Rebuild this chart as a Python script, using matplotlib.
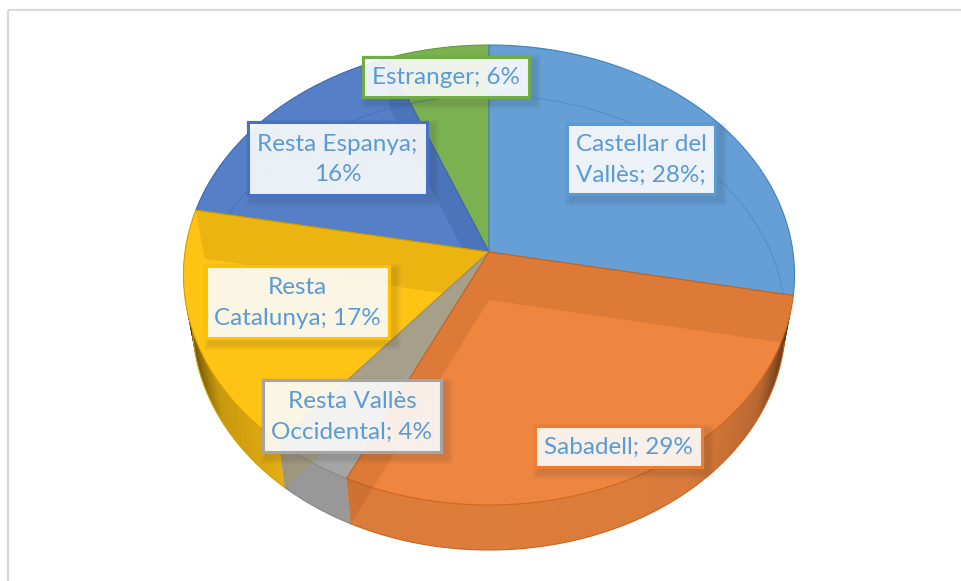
import numpy as np
import matplotlib
matplotlib.use("Agg")
import matplotlib.pyplot as plt
from matplotlib.patches import Rectangle

categories = ["Castellar del\nVallès; 28%;", "Sabadell; 29%", "Resta Vallès\nOccidental; 4%",
              "Resta\nCatalunya; 17%", "Resta Espanya;\n16%", "Estranger; 6%"]
values = [28, 29, 4, 17, 16, 6]
colors = ["#659FD6", "#EE8640", "#A5A5A5", "#FFC313", "#5580C8", "#7CB151"]
edges = ["#3F80C0", "#CF661F", "#8A8A8A", "#D9A200", "#3F6CB5", "#5F9A38"]
box_edges = ["#5B9BD5", "#ED7D31", "#A5A5A5", "#FFC000", "#4472C4", "#70AD47"]

# label boxes in pixels: left, top, right, bottom
boxes = [(567, 124, 715, 194), (535, 426, 702, 467), (263, 380, 441, 452),
         (206, 266, 389, 338), (248, 122, 427, 195), (363, 57, 529, 97)]

plt.rcParams['font.family'] = ['Lato', 'DejaVu Sans']

# projection of the tilted pie
cx = 489
top = (252, 304, 227.7)
bottom = (300, 295, 225)
k = 0.1


def rim(theta, plane):
    cy, rx, ry = plane
    t = np.radians(theta)
    w = 1 + k * np.cos(t)
    return cx + rx * np.sin(t) / w, cy - ry * np.cos(t) / w


def shade(color, f):
    return tuple(np.array(matplotlib.colors.to_rgb(color)) * f)


def wall(ax, theta, color, alpha, zorder):
    x1, y1 = rim(theta, top)
    x2, y2 = rim(theta, bottom)
    ax.fill([cx, x1, x2, cx], [top[0], y1, y2, bottom[0]], color=color, alpha=alpha, lw=0, zorder=zorder)


fig = plt.figure(figsize=(9.62, 5.81), dpi=100)
ax = fig.add_axes([0, 0, 1, 1])
ax.set_xlim(0, 962)
ax.set_ylim(581, 0)
ax.axis("off")

ax.add_patch(Rectangle((8, 10), 1000, 700, fill=False, edgecolor="#D9D9D9", lw=1.6, zorder=0))

limits = np.cumsum([0] + values) * 3.6
starts = limits[:-1]
ends = limits[1:]

# draw order: back slices first, Sabadell last so it covers the grey wall
layers = [5, 4, 3, 2, 0, 1]
for i in layers:
    z = 2 + layers.index(i) * 2
    theta = np.linspace(starts[i], ends[i], 80)
    if 90 < ends[i] and starts[i] < 285 and i != 0:
        # each strip runs over the next one so no seams show, last strips on top
        for a, b in zip(theta[:-1], theta[1:]):
            b2 = min(b + 2 * (b - a), ends[i])
            x1, y1 = rim(np.array([a, b2]), top)
            x2, y2 = rim(np.array([b2, a]), bottom)
            f = np.interp(abs(np.sin(np.radians((a + b) / 2))), [0, 0.6, 0.85, 0.95, 1], [0.93, 0.92, 0.78, 0.45, 0.22])
            ax.fill(np.r_[x1, x2], np.r_[y1, y2], color=shade(colors[i], f), lw=0, zorder=z)
        xb, yb = rim(theta, bottom)
        ax.plot(xb, yb, color=edges[i], lw=0.8, zorder=z)
    x, y = rim(theta, top)
    ax.fill(np.r_[cx, x], np.r_[top[0], y], facecolor=colors[i], edgecolor=edges[i], lw=0.8, zorder=z + 0.5)

# walls seen through the transparent faces
wall(ax, ends[4], "#1F3F80", 0.18, 5.6)
arc = np.linspace(ends[3], ends[4] + 15, 100)
ax.plot(*rim(arc, bottom), color="#3F6CB5", lw=0.7, alpha=0.7, zorder=5.7)
arc = np.linspace(-6, ends[0] - 1, 120)
ax.plot(*rim(arc, bottom), color="#4F8CCB", lw=0.8, alpha=0.8, zorder=11.7)
wall(ax, ends[3], "#6B5000", 0.13, 7.6)
wall(ax, ends[2], "#A89660", 0.4, 9.6)
wall(ax, ends[0], "#6B3000", 0.13, 13.6)
wall(ax, ends[1], "#6B3000", 0.13, 13.6)

# labels
for i in range(len(categories)):
    x0, y0, x1, y1 = boxes[i]
    for d, a in [(7, 0.04), (5, 0.05), (3, 0.06)]:
        ax.add_patch(Rectangle((x0 - d + 5, y0 - d + 5), x1 - x0 + 2 * d, y1 - y0 + 2 * d, facecolor="#303030", alpha=a, lw=0, zorder=20))
    ax.add_patch(Rectangle((x0, y0), x1 - x0, y1 - y0, facecolor=(1, 1, 1, 0.89), edgecolor=box_edges[i], lw=2.2, zorder=21))
    ax.text((x0 + x1) / 2, (y0 + y1) / 2 + 1, categories[i], ha="center", va="center", color="#5B9BD5",
            fontsize=17.5, linespacing=1.58, zorder=22)

plt.savefig("out.png", dpi=100)
